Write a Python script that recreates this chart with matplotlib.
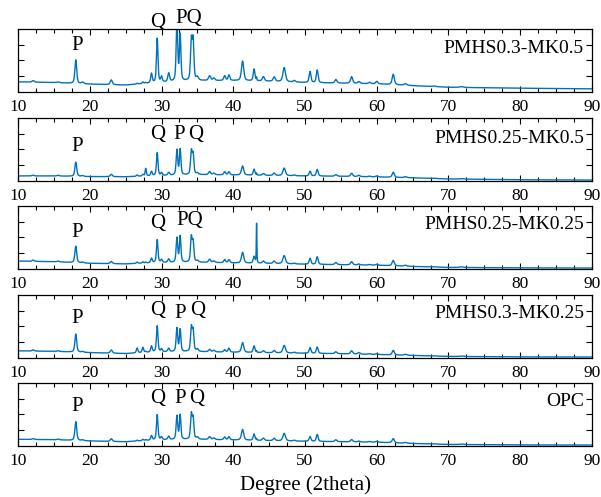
import numpy as np
import matplotlib
matplotlib.use("Agg")
import matplotlib.pyplot as plt
from matplotlib.ticker import MultipleLocator

plt.rcParams['font.family'] = ['Liberation Serif', 'DejaVu Serif']

# sample names, top to bottom
samples = ["PMHS0.3-MK0.5", "PMHS0.25-MK0.5", "PMHS0.25-MK0.25", "PMHS0.3-MK0.25", "OPC"]

# peak positions (2theta)
peak_pos = [12.1, 15.6, 18.05, 19.0, 23.0, 26.6, 27.4, 27.8, 28.6, 29.4,
            30.0, 31.0, 32.15, 32.6, 34.15, 34.4, 35.0, 36.7, 37.3, 38.8,
            39.4, 41.3, 42.9, 43.25, 44.2, 45.7, 47.1, 48.5, 50.7, 51.7,
            54.3, 56.5, 57.5, 59.0, 60.0, 62.3, 64.0, 68.0, 71.8]
peak_fwhm = [0.35, 0.35, 0.3, 0.35, 0.35, 0.25, 0.25, 0.2, 0.25, 0.25,
             0.25, 0.3, 0.26, 0.24, 0.26, 0.26, 0.35, 0.35, 0.35, 0.3,
             0.3, 0.38, 0.28, 0.09, 0.35, 0.35, 0.42, 0.35, 0.3, 0.3,
             0.35, 0.35, 0.35, 0.35, 0.35, 0.36, 0.45, 0.6, 0.6]

# peak heights above background, one list per sample
h_pmhs03_mk05 = [0.1, 0.05, 1.5, 0.1, 0.3, 0.05, 0.1, 0.05, 0.6, 2.8,
                 0.35, 0.55, 3.7, 2.9, 2.5, 2.5, 0.2, 0.3, 0.15, 0.3,
                 0.35, 1.25, 0.75, 0.2, 0.28, 0.28, 0.9, 0.1, 0.7, 0.8,
                 0.22, 0.42, 0.12, 0.08, 0.15, 0.66, 0.1, 0.04, 0.05]
h_pmhs025_mk05 = [0.05, 0.05, 0.9, 0.05, 0.15, 0.08, 0.1, 0.48, 0.28, 1.45,
                  0.18, 0.18, 1.6, 1.62, 1.45, 1.25, 0.1, 0.2, 0.1, 0.2,
                  0.2, 0.58, 0.38, 0.12, 0.12, 0.15, 0.48, 0.05, 0.3, 0.42,
                  0.1, 0.2, 0.08, 0.04, 0.06, 0.32, 0.06, 0.02, 0.03]
h_pmhs025_mk025 = [0.08, 0.05, 1.05, 0.05, 0.14, 0.08, 0.08, 0.05, 0.28, 1.45,
                   0.18, 0.22, 1.55, 1.65, 1.55, 1.25, 0.1, 0.2, 0.1, 0.2,
                   0.2, 0.68, 0.42, 2.6, 0.15, 0.15, 0.52, 0.05, 0.38, 0.48,
                   0.14, 0.2, 0.06, 0.04, 0.06, 0.34, 0.06, 0.02, 0.04]
h_pmhs03_mk025 = [0.08, 0.05, 1.15, 0.05, 0.2, 0.3, 0.33, 0.05, 0.38, 1.65,
                  0.18, 0.22, 1.5, 1.4, 1.5, 1.3, 0.15, 0.15, 0.1, 0.15,
                  0.25, 0.62, 0.42, 0.1, 0.12, 0.15, 0.48, 0.05, 0.36, 0.4,
                  0.12, 0.2, 0.1, 0.04, 0.06, 0.29, 0.06, 0.02, 0.03]
h_opc = [0.06, 0.05, 1.2, 0.05, 0.17, 0.05, 0.08, 0.05, 0.28, 1.6,
         0.18, 0.22, 1.5, 1.55, 1.55, 1.3, 0.12, 0.18, 0.1, 0.18,
         0.2, 0.68, 0.4, 0.1, 0.15, 0.15, 0.48, 0.05, 0.3, 0.44,
         0.12, 0.15, 0.06, 0.04, 0.06, 0.27, 0.05, 0.02, 0.03]
heights = [h_pmhs03_mk05, h_pmhs025_mk05, h_pmhs025_mk025, h_pmhs03_mk025, h_opc]

# background level read at these angles
base_deg = [10, 15, 20, 25, 29, 35, 40, 45, 50, 55, 60, 65, 70, 80, 90]
bg_pmhs03_mk05 = [0.64, 0.6, 0.5, 0.44, 0.58, 0.72, 0.72, 0.68, 0.6, 0.56, 0.52, 0.4, 0.3, 0.24, 0.2]
bg_pmhs025_mk05 = [0.32, 0.32, 0.28, 0.27, 0.33, 0.4, 0.38, 0.35, 0.32, 0.3, 0.26, 0.2, 0.13, 0.08, 0.06]
bg_pmhs025_mk025 = [0.5, 0.46, 0.36, 0.32, 0.4, 0.42, 0.38, 0.35, 0.3, 0.27, 0.24, 0.16, 0.1, 0.07, 0.06]
bg_pmhs03_mk025 = [0.45, 0.42, 0.34, 0.28, 0.38, 0.4, 0.36, 0.33, 0.3, 0.27, 0.22, 0.16, 0.1, 0.07, 0.06]
bg_opc = [0.42, 0.4, 0.32, 0.27, 0.38, 0.42, 0.38, 0.34, 0.3, 0.27, 0.24, 0.16, 0.1, 0.07, 0.06]
backgrounds = [bg_pmhs03_mk05, bg_pmhs025_mk05, bg_pmhs025_mk025, bg_pmhs03_mk025, bg_opc]

# phase labels (text, 2theta, intensity) per panel
marks = [
    [("P", 18.2, 2.94), ("Q", 29.5, 4.4), ("PQ", 33.8, 4.65)],
    [("P", 18.2, 2.18), ("Q", 29.5, 2.92), ("P", 32.5, 2.92), ("Q", 34.7, 2.92)],
    [("P", 18.2, 2.3), ("Q", 29.5, 2.9), ("PQ", 33.9, 3.06)],
    [("P", 18.2, 2.5), ("Q", 29.5, 3.04), ("P", 32.6, 2.83), ("Q", 35.0, 3.0)],
    [("P", 18.2, 2.5), ("Q", 29.5, 3.04), ("P", 32.6, 3.04), ("Q", 34.9, 3.04)],
]
label_y = [0.69, 0.68, 0.70, 0.71, 0.70]

two_theta = np.arange(10, 90.001, 0.02)

def pattern(h, bg):
    y = np.interp(two_theta, base_deg, bg)
    for p, w, a in zip(peak_pos, peak_fwhm, h):
        d = (two_theta - p) / (w / 2)
        y = y + a * (0.5 / (1 + d**2) + 0.5 * np.exp(-np.log(2) * d**2))
    return y

fig = plt.figure(figsize=(6.01, 4.97), dpi=100)
bottoms = [0.8149, 0.6358, 0.4588, 0.2797, 0.1026]

for i in range(5):
    ax = fig.add_axes([0.030, bottoms[i], 0.955, 0.127])
    ax.plot(two_theta, pattern(heights[i], backgrounds[i]), color="#0072BD", lw=1.0)
    ax.set_xlim(10, 90)
    ax.set_ylim(0, 4)
    ax.xaxis.set_major_locator(MultipleLocator(10))
    ax.xaxis.set_minor_locator(MultipleLocator(2.5))
    ax.set_yticks([1, 2, 3])
    ax.set_yticklabels([])
    ax.tick_params(which="both", direction="in", top=True, right=True, width=0.8)
    ax.tick_params(which="major", length=4)
    ax.tick_params(which="minor", length=3)
    ax.tick_params(axis="x", labelsize=12.5, pad=5)
    for s in ax.spines.values():
        s.set_linewidth(0.9)
    ax.text(0.986, label_y[i], samples[i], transform=ax.transAxes,
            ha="right", va="center", fontsize=14)
    for t, x, y in marks[i]:
        ax.text(x, y, t, ha="center", va="center", fontsize=15, clip_on=False)

fig.text(0.5075, 0.024, "Degree (2theta)", ha="center", va="center", fontsize=15)

fig.savefig("out.png", dpi=100)
